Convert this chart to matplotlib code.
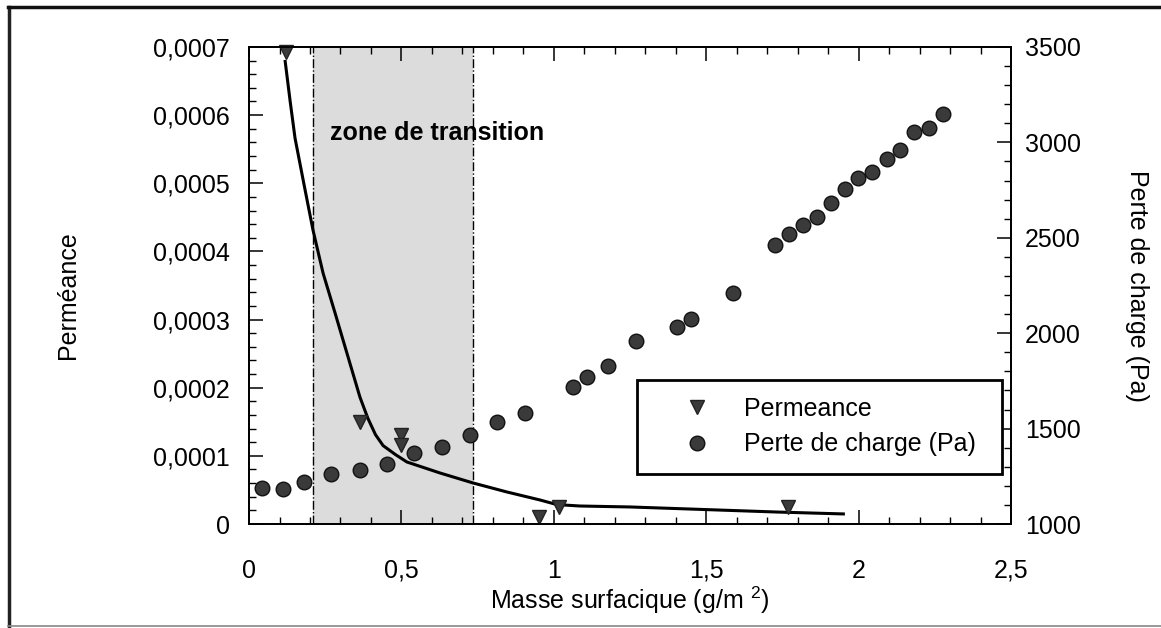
import matplotlib
matplotlib.use("Agg")
import matplotlib.pyplot as plt
from matplotlib.ticker import MultipleLocator, FuncFormatter
from matplotlib.lines import Line2D

plt.rcParams['font.family'] = ['Liberation Sans', 'DejaVu Sans']
plt.rcParams['mathtext.fontset'] = 'custom'
plt.rcParams['mathtext.rm'] = 'Liberation Sans'
plt.rcParams['mathtext.it'] = 'Liberation Sans'

# Permeance measurements (left axis)
perm_x = [0.12, 0.364, 0.50, 0.50, 0.951, 1.017, 1.768]
perm_y = [0.000693, 0.000150, 0.000131, 0.000116, 0.000010, 0.000025, 0.000025]

# Fitted permeance curve (left axis)
curve_x = [0.118, 0.135, 0.151, 0.184, 0.21, 0.243, 0.282, 0.321, 0.364, 0.39, 0.415, 0.44, 0.48,
           0.518, 0.627, 0.735, 0.846, 0.955, 1.01, 1.086, 1.25, 1.73, 1.955]
curve_y = [0.000681, 0.000620, 0.000566, 0.000490, 0.000431, 0.000368, 0.000310, 0.000251, 0.000186,
           0.000155, 0.000131, 0.000115, 0.000102, 0.000091, 0.0000748, 0.0000602, 0.000047,
           0.0000352, 0.0000285, 0.0000264, 0.000025, 0.0000176, 0.0000147]

# Pressure drop (right axis, Pa)
pdc_x = [0.043, 0.112, 0.18, 0.269, 0.364, 0.453, 0.54, 0.633, 0.725, 0.814, 0.905,
         1.064, 1.109, 1.178, 1.27, 1.404, 1.45, 1.588, 1.726, 1.772, 1.818, 1.863,
         1.909, 1.955, 1.998, 2.044, 2.093, 2.136, 2.182, 2.231, 2.277]
pdc_y = [1189, 1183, 1220, 1262, 1283, 1314, 1372, 1404, 1466, 1535, 1582,
         1718, 1770, 1828, 1959, 2032, 2074, 2211, 2462, 2520, 2567, 2609,
         2682, 2756, 2813, 2845, 2913, 2960, 3054, 3075, 3149]

zone = [0.21, 0.735]
zone_label = "zone de transition"

fig = plt.figure(figsize=(11.61, 6.28), dpi=100)
ax = fig.add_axes([0.2145, 0.1656, 0.6563, 0.7596])
ax2 = ax.twinx()

ax.axvspan(zone[0], zone[1], facecolor='#dcdcdc', edgecolor='none', zorder=0)
for z in zone:
    ax.axvline(z, color='black', lw=1.0, ls='-.', zorder=1)

ax.plot(curve_x, curve_y, color='black', lw=2.2, zorder=3, solid_capstyle='butt',
        solid_joinstyle='round')
ax.plot(perm_x, perm_y, ls='none', marker='v', ms=10, color='#3a3a3a', mec='#222222',
        label='Permeance', zorder=4, clip_on=False)
ax2.plot(pdc_x, pdc_y, ls='none', marker='o', ms=10.5, color='#3a3a3a', mec='#111111', mew=1.0,
         label='Perte de charge (Pa)', zorder=4)

ax.set_xlim(0, 2.5)
ax.set_ylim(0, 0.0007)
ax2.set_ylim(1000, 3500)

fs = 18
comma = FuncFormatter(lambda v, p: ('%g' % round(v, 6)).replace('.', ','))
ax.xaxis.set_major_locator(MultipleLocator(0.5))
ax.xaxis.set_minor_locator(MultipleLocator(0.1))
ax.yaxis.set_major_locator(MultipleLocator(0.0001))
ax.yaxis.set_minor_locator(MultipleLocator(0.00002))
ax.xaxis.set_major_formatter(comma)
ax.yaxis.set_major_formatter(comma)
ax2.yaxis.set_major_locator(MultipleLocator(500))
ax2.yaxis.set_minor_locator(MultipleLocator(100))

ax.tick_params(axis='x', which='both', direction='in', top=True, bottom=True)
ax.tick_params(axis='x', which='major', length=10, width=1.1, pad=25, labelsize=fs)
ax.tick_params(axis='x', which='minor', length=5, width=1.0)
ax.tick_params(axis='y', which='both', direction='in', left=True, right=False)
ax.tick_params(axis='y', which='major', length=10, width=1.1, pad=14, labelsize=fs)
ax.tick_params(axis='y', which='minor', length=5, width=1.0)
ax2.tick_params(axis='y', which='both', direction='in', right=True)
ax2.tick_params(axis='y', which='major', length=10, width=1.1, pad=10, labelsize=fs)
ax2.tick_params(axis='y', which='minor', length=5, width=1.0)
for a in (ax, ax2):
    for s in a.spines.values():
        s.set_linewidth(1.3)

ax.text(0.265, 0.000574, zone_label, fontsize=fs, fontweight='bold', va='center', ha='left', zorder=5)

ax.set_xlabel('Masse surfacique (g/m $^{2}$)', fontsize=fs, labelpad=1)
ax.set_ylabel('Perméance', fontsize=fs)
ax.yaxis.set_label_coords(-0.222, 0.48)
ax2.set_ylabel('Perte de charge (Pa)', fontsize=fs, rotation=-90, va='bottom')
ax2.yaxis.set_label_coords(1.15, 0.5)

h1, l1 = ax.get_legend_handles_labels()
h2, l2 = ax2.get_legend_handles_labels()
leg = ax2.legend(h1 + h2, l1 + l2, loc='lower left', bbox_to_anchor=(0.509, 0.105, 0.479, 0.216),
                 mode='expand', fontsize=fs, frameon=True, fancybox=False, framealpha=1,
                 edgecolor='black', borderpad=0.7, labelspacing=0.45, handlelength=3.4,
                 handletextpad=0.2, numpoints=1, borderaxespad=0)
leg.get_frame().set_linewidth(2.0)
leg.set_zorder(10)

# outer frame of the figure
fig.add_artist(Line2D([0.0078, 0.0078], [0.003, 0.989], transform=fig.transFigure, color='#222222', lw=2.5))
fig.add_artist(Line2D([0.0068, 1.0], [0.989, 0.989], transform=fig.transFigure, color='#111111', lw=2.5))
fig.add_artist(Line2D([0.0068, 1.0], [0.003, 0.003], transform=fig.transFigure, color='#888888', lw=1.2))

fig.savefig('out.png', dpi=100)
